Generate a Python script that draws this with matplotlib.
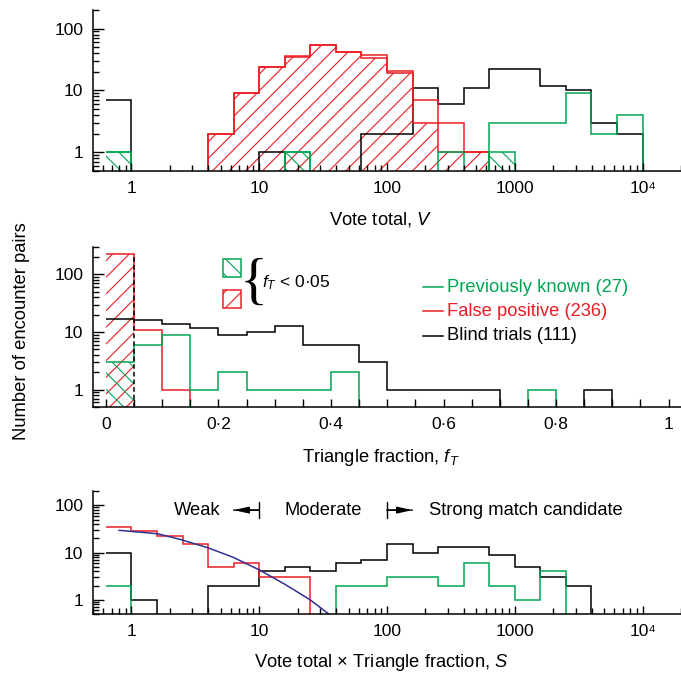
import numpy as np
import matplotlib.pyplot as plt
from matplotlib.patches import Rectangle
from matplotlib.ticker import MultipleLocator, NullFormatter

plt.rcParams['font.family'] = ['Liberation Sans', 'DejaVu Sans']
plt.rcParams['mathtext.fontset'] = 'custom'
plt.rcParams['mathtext.rm'] = 'Liberation Sans'
plt.rcParams['mathtext.it'] = 'Liberation Sans:italic'
plt.rcParams['hatch.linewidth'] = 0.8
plt.rcParams['axes.linewidth'] = 1.1

GREEN = '#00a651'
RED = '#ed1c24'
BLUE = '#2e3192'
FS = 12.5     # tick labels
FL = 13.2     # labels and legend

# ------------------------------
# bins
# ------------------------------
# log bins 0.2 dex wide, from 10^-0.2 to 10^4.2
edges_log = 10 ** np.arange(-0.2, 4.21, 0.2)
# triangle fraction bins 0.05 wide
edges_f = np.arange(0, 1.001, 0.05)

# ------------------------------
# Vote total V (top)
# ------------------------------
known_v = [1, 0, 0, 0, 0, 0, 0, 1, 0, 0, 0, 0, 0, 1, 0, 3, 3, 3, 9, 2, 4, 0]
known_v_low = [1, 0, 0, 0, 0, 0, 0, 1, 0, 0, 0, 0, 0, 0, 0, 1, 0, 0, 0, 0, 0, 0]
false_v = [0, 0, 0, 0, 2, 9, 24, 36, 54, 42, 37, 21, 7, 3, 1, 0, 0, 0, 0, 0, 0, 0]
false_v_low = [0, 0, 0, 0, 2, 9, 24, 35, 54, 42, 34, 19, 3, 1, 1, 0, 0, 0, 0, 0, 0, 0]
blind_v = [7, 0, 0, 0, 0, 0, 1, 0, 0, 0, 2, 2, 11, 6, 11, 22, 22, 12, 10, 3, 2, 0]

# ------------------------------
# Triangle fraction f_T (middle)
# ------------------------------
known_f = [3, 6, 9, 1, 2, 1, 1, 1, 2, 0, 0, 0, 0, 0, 0, 1, 0, 0, 0, 0]
false_f = [224, 11, 1, 0, 0, 0, 0, 0, 0, 0, 0, 0, 0, 0, 0, 0, 0, 0, 0, 0]
blind_f = [17, 16, 14, 12, 9, 10, 13, 6, 6, 3, 1, 1, 1, 1, 0, 0, 0, 1, 0, 0]

# ------------------------------
# S = V x f_T (bottom)
# ------------------------------
known_s = [2, 0, 0, 0, 0, 0, 0, 0, 0, 2, 2, 3, 3, 2, 6, 2, 1, 4, 0, 0, 0, 0]
false_s = [35, 29, 22, 15, 5, 6, 3, 3, 0, 0, 0, 0, 0, 0, 0, 0, 0, 0, 0, 0, 0, 0]
blind_s = [10, 1, 0, 0, 2, 2, 4, 5, 4, 6, 7, 15, 10, 13, 13, 9, 5, 3, 2, 0, 0, 0]

# fitted curve for false positives
curve_s = [0.8, 1.0, 1.6, 2.4, 4.0, 6.2, 10, 16, 25, 35]
curve_n = [29.5, 28, 25, 19, 12.5, 8, 4.3, 2.1, 1.0, 0.5]

legend_labels = ['Previously known (27)', 'False positive (236)', 'Blind trials (111)']


def outline(ax, vals, edges, color):
    ax.stairs(np.asarray(vals, float), edges, baseline=None, color=color, lw=1.1)


def hatched(ax, vals, edges, color, hatch):
    ax.stairs(np.asarray(vals, float), edges, baseline=0.05, fill=True,
              facecolor='none', edgecolor=color, hatch=hatch, lw=0)


def style(ax):
    ax.set_yscale('log')
    ax.set_ylim(0.5, 200)
    ax.spines['top'].set_visible(False)
    ax.spines['right'].set_visible(False)
    ax.tick_params(which='both', direction='in', top=False, right=False,
                   labelsize=FS, width=1)
    ax.tick_params(axis='y', which='major', length=8, pad=7)
    ax.tick_params(axis='y', which='minor', length=4.5)
    ax.tick_params(axis='x', which='major', length=6, pad=7)
    ax.tick_params(axis='x', which='minor', length=4)
    ax.set_yticks([1, 10, 100], labels=['1', '10', '100'])
    ax.yaxis.set_minor_formatter(NullFormatter())


def logx(ax):
    ax.set_xscale('log')
    ax.set_xlim(0.5, 2e4)
    ax.set_xticks([1, 10, 100, 1000, 1e4], labels=['1', '10', '100', '1000', '10⁴'])
    ax.xaxis.set_minor_formatter(NullFormatter())


def bar_arrow(ax, x_bar, x_head, y, tr):
    ax.annotate('', xy=(x_head, y), xytext=(x_bar, y), xycoords=tr, textcoords=tr,
                arrowprops=dict(arrowstyle='-|>, head_length=0.9, head_width=0.2',
                                lw=1, color='black', shrinkA=0, shrinkB=0))
    ax.annotate('', xy=(x_head, y), xytext=(x_bar, y), xycoords=tr, textcoords=tr,
                arrowprops=dict(arrowstyle=']-, widthA=0.55, lengthA=0',
                                lw=1, color='black', shrinkA=0, shrinkB=0))


fig = plt.figure(figsize=(6.81, 6.79), dpi=100)
ax1 = fig.add_axes([0.1366, 0.7482, 0.8634, 0.2371])
ax2 = fig.add_axes([0.1366, 0.4006, 0.8634, 0.2356])
ax3 = fig.add_axes([0.1366, 0.0957, 0.8634, 0.1811])

# --- top panel ---
hatched(ax1, false_v_low, edges_log, RED, '//')
hatched(ax1, known_v_low, edges_log, GREEN, '\\\\')
outline(ax1, blind_v, edges_log, 'black')
outline(ax1, false_v_low, edges_log, RED)
outline(ax1, false_v, edges_log, RED)
outline(ax1, known_v_low, edges_log, GREEN)
outline(ax1, known_v, edges_log, GREEN)
style(ax1)
logx(ax1)
ax1.set_xlabel('Vote total, $V$', fontsize=FL)
ax1.xaxis.set_label_coords(0.49, -0.24)

# --- middle panel ---
low_f = np.zeros(len(edges_f) - 1)
low_known_f = low_f.copy()
low_f[0] = false_f[0]
low_known_f[0] = known_f[0]
hatched(ax2, low_f, edges_f, RED, '//')
hatched(ax2, low_known_f, edges_f, GREEN, '\\\\')
outline(ax2, blind_f, edges_f, 'black')
outline(ax2, false_f, edges_f, RED)
outline(ax2, known_f, edges_f, GREEN)
style(ax2)
ax2.set_ylim(0.5, 300)
ax2.vlines(edges_f[1], 0.5, false_f[0], colors='black', linestyles=(0, (3, 2)), lw=1.1)
ax2.set_xlim(-0.023, 1.022)
ax2.set_xticks([0, 0.2, 0.4, 0.6, 0.8, 1.0],
               labels=['0', '0·2', '0·4', '0·6', '0·8', '1'])
ax2.xaxis.set_minor_locator(MultipleLocator(0.05))
ax2.tick_params(axis='x', which='minor', length=6)
ax2.set_xlabel('Triangle fraction, $f_T$', fontsize=FL)
ax2.xaxis.set_label_coords(0.49, -0.25)

# legend (right side)
for i, (lab, col) in enumerate(zip(legend_labels, [GREEN, RED, 'black'])):
    yy = 0.75 - i * 0.153
    ax2.plot([0.561, 0.595], [yy, yy], color=col, lw=1.1, transform=ax2.transAxes)
    ax2.text(0.602, yy, lab, color=col, fontsize=FL, va='center', ha='left',
             transform=ax2.transAxes)

# f_T < 0.05 key
ax2.add_patch(Rectangle((0.221, 0.812), 0.0306, 0.113, transform=ax2.transAxes,
                        facecolor='none', edgecolor=GREEN, hatch='\\\\', lw=1.1))
ax2.add_patch(Rectangle((0.221, 0.619), 0.0306, 0.113, transform=ax2.transAxes,
                        facecolor='none', edgecolor=RED, hatch='//', lw=1.1))
ax2.text(0.2735, 0.765, '{', fontsize=42, va='center', ha='center',
         family='Liberation Serif', transform=ax2.transAxes, color='black')
ax2.text(0.288, 0.775, '$f_T$ < 0·05', fontsize=FS, va='center', ha='left',
         transform=ax2.transAxes)

# --- bottom panel ---
outline(ax3, blind_s, edges_log, 'black')
outline(ax3, false_s, edges_log, RED)
outline(ax3, known_s, edges_log, GREEN)
ax3.plot(curve_s, curve_n, color=BLUE, lw=1.1)
style(ax3)
logx(ax3)
ax3.set_xlabel('Vote total × Triangle fraction, $S$', fontsize=FL)
ax3.xaxis.set_label_coords(0.49, -0.31)

ya = 0.845
tr = ax3.get_xaxis_transform()
ax3.text(5.0, ya, 'Weak', fontsize=FL, ha='right', va='center', transform=tr)
ax3.text(31.6, ya, 'Moderate', fontsize=FL, ha='center', va='center', transform=tr)
ax3.text(215, ya, 'Strong match candidate', fontsize=FL, ha='left', va='center', transform=tr)
bar_arrow(ax3, 10, 6.3, ya, tr)
bar_arrow(ax3, 100, 158, ya, tr)

fig.text(0.032, 0.513, 'Number of encounter pairs', rotation=90, fontsize=FL,
         ha='center', va='center')

fig.savefig('out.png', dpi=100)
